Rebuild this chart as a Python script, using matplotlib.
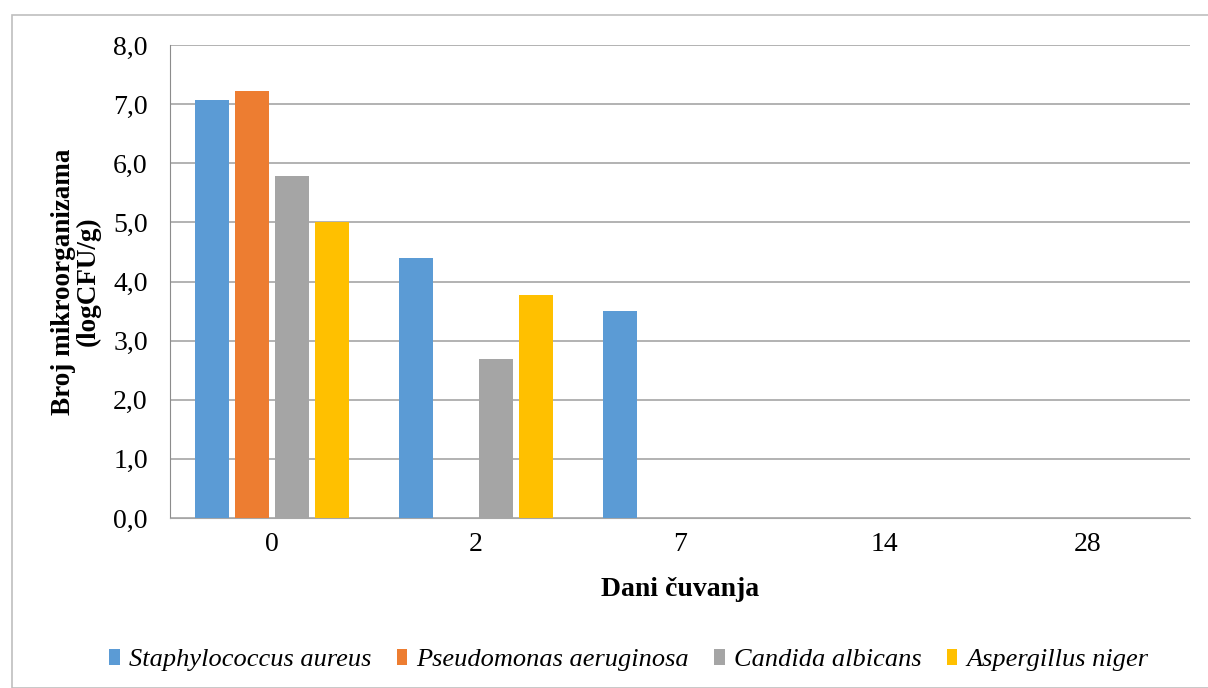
import numpy as np
import matplotlib.pyplot as plt
from matplotlib.patches import Rectangle

# Podaci
dani = ['0', '2', '7', '14', '28']
s_aureus = [7.07, 4.40, 3.50, 0, 0]
p_aeruginosa = [7.22, 0, 0, 0, 0]
c_albicans = [5.78, 2.69, 0, 0, 0]
a_niger = [5.00, 3.78, 0, 0, 0]
serije = ['Staphylococcus aureus', 'Pseudomonas aeruginosa', 'Candida albicans', 'Aspergillus niger']
boje = ['#5B9BD5', '#ED7D31', '#A5A5A5', '#FFC000']

plt.rcParams['font.family'] = ['Liberation Serif', 'DejaVu Serif']

fig = plt.figure(figsize=(12.08, 6.88), dpi=100)
ax = fig.add_axes([170/1208, 1 - 518/688, 1020/1208, 473/688])

x = np.arange(len(dani))
korak = 0.196
sirina = 0.164
for i, (vrijednosti, ime, boja) in enumerate(zip([s_aureus, p_aeruginosa, c_albicans, a_niger], serije, boje)):
    ax.bar(x + (i - 1.5) * korak, vrijednosti, width=sirina, color=boja, label=ime, zorder=3)

ax.set_xlim(-0.5, len(dani) - 0.5)
ax.set_ylim(0, 8)
ax.set_yticks(np.arange(0, 8.1, 1))
ax.set_yticklabels([f'{v:.1f}'.replace('.', ',') for v in np.arange(0, 8.1, 1)], fontsize=20)
ax.set_xticks(x)
ax.set_xticklabels(dani, fontsize=20)
ax.tick_params(axis='y', length=0, pad=16)
ax.tick_params(axis='x', length=0, pad=10)
ax.grid(axis='y', color='#a6a6a6', linewidth=1.2, zorder=0)
for s in ['top', 'right']:
    ax.spines[s].set_visible(False)
ax.spines['left'].set_color('#8c8c8c')
ax.spines['bottom'].set_color('#a6a6a6')

ax.set_xlabel('Dani čuvanja', fontsize=20, fontweight='bold')
ax.xaxis.label.set_va('center')
ax.xaxis.set_label_coords(0.5, -(589 - 518) / 473)
ax.set_ylabel('Broj mikroorganizama\n(logCFU/g)', fontsize=19.5, fontweight='bold', linespacing=1.0)
ax.yaxis.label.set_va('center')
ax.yaxis.set_label_coords((76 - 170) / 1020, 0.5)

leg = fig.legend(loc='center', bbox_to_anchor=(629/1208, 1 - 660/688), ncol=4, frameon=False,
                 prop={'family': 'Liberation Serif', 'style': 'italic', 'size': 19},
                 handlelength=0.4, handleheight=0.55, handletextpad=0.35, columnspacing=0.95)

# okvir oko grafika
fig.patches.append(Rectangle((12/1208, 0), 1, 1 - 15/688, transform=fig.transFigure,
                             fill=False, edgecolor='#bfbfbf', linewidth=1.2))

fig.savefig('out.png', dpi=100)
